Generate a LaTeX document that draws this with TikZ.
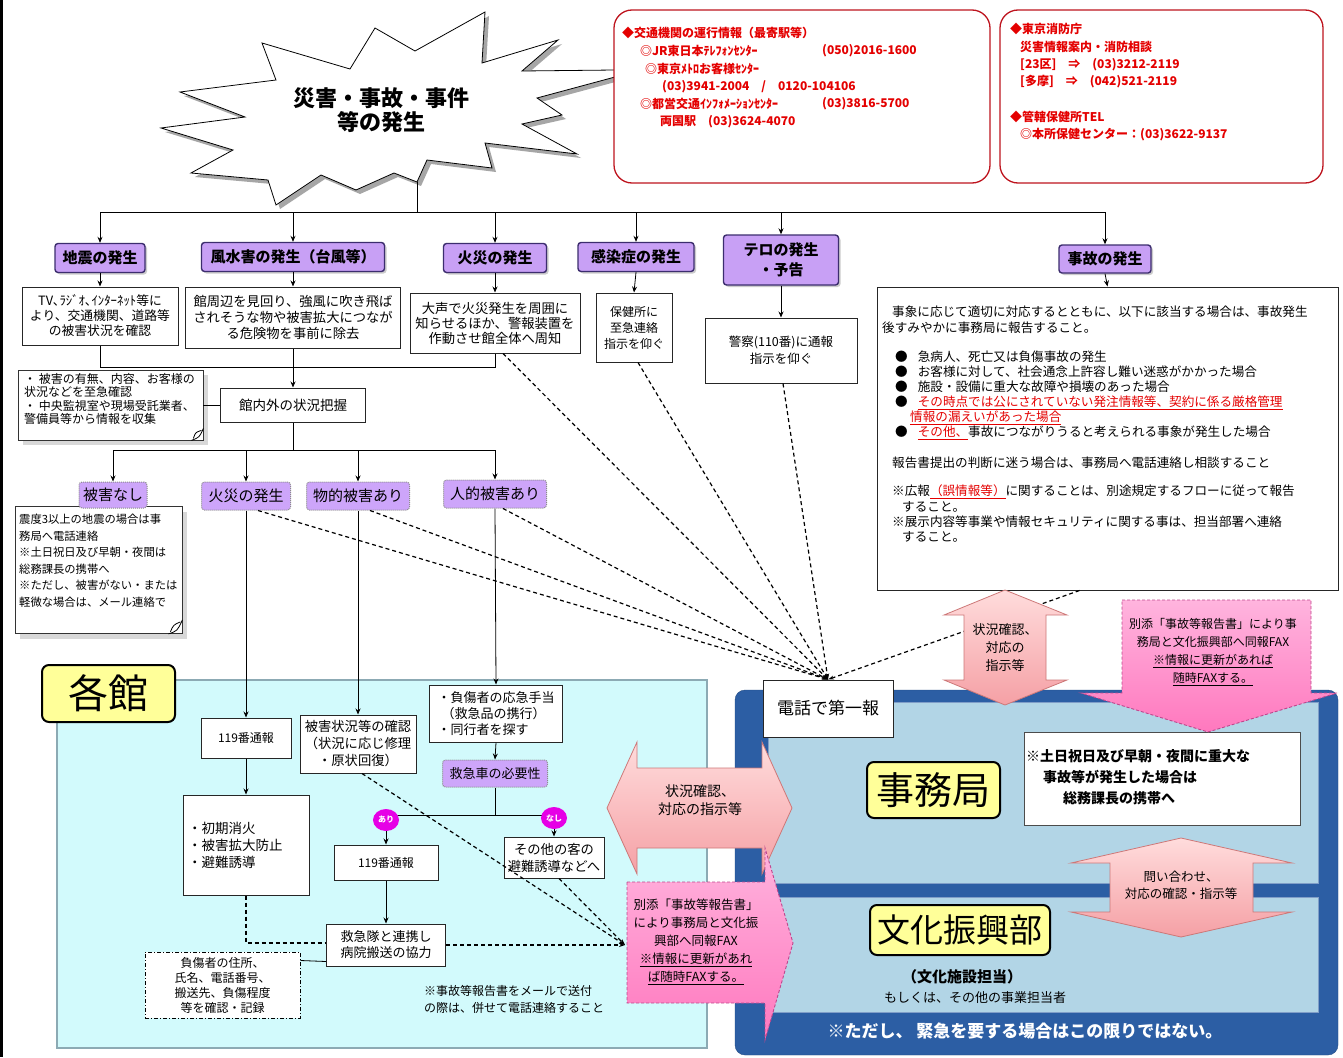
\documentclass[tikz,border=0pt]{standalone}
\usepackage{fontspec}
\setmainfont{Noto Sans CJK JP}
\usetikzlibrary{arrows.meta,shadows,calc,shapes.geometric}
\definecolor{catp}{RGB}{200,160,245}
\definecolor{catp2}{RGB}{205,165,250}
\definecolor{catb}{RGB}{60,45,110}
\definecolor{redt}{RGB}{228,0,0}
\definecolor{redb}{RGB}{190,20,30}
\definecolor{cyanp}{RGB}{210,250,252}
\definecolor{cyanb}{RGB}{140,170,180}
\definecolor{blueo}{RGB}{44,94,164}
\definecolor{bluei}{RGB}{178,213,230}
\definecolor{yel}{RGB}{255,255,153}
\definecolor{mag}{RGB}{230,0,230}
\definecolor{pk1}{RGB}{255,220,220}
\definecolor{pk2}{RGB}{245,160,165}
\definecolor{pkb}{RGB}{205,120,120}
\definecolor{fx1}{RGB}{255,180,222}
\definecolor{fx2}{RGB}{255,120,190}
\definecolor{fxb}{RGB}{190,70,140}
\newcommand\fz[2]{\fontsize{#1}{#2}\selectfont}
\tikzset{
 arr/.style={-{Stealth[length=6pt,width=5pt]}, line width=0.8pt},
 ln/.style={line width=0.8pt},
 dsh/.style={line width=1.2pt, dash pattern=on 4pt off 3pt},
 dtip/.style={-{Stealth[length=6pt,width=4pt]}},
 wbox/.style={draw=black!85, fill=white, line width=1pt, inner sep=1pt, align=center},
 cat/.style={draw=catb, fill=catp, rounded corners=3pt, line width=1.4pt, inner sep=1pt, align=center, font=\fz{15}{20}\bfseries, drop shadow={shadow xshift=2pt, shadow yshift=-2pt, fill=black!40}},
 cat2/.style={draw=black!45, fill=catp2, densely dotted, rounded corners=3pt, line width=1pt, inner sep=1pt, align=center, font=\fz{15}{18}},
 ylab/.style={draw=black, fill=yel, rounded corners=7pt, line width=2pt, align=center, inner sep=0pt},
 rtxt/.style={anchor=west, text=redt, font=\fz{12}{14}\bfseries, inner sep=0pt},
 jtxt/.style={anchor=west, font=\fz{12.6}{15}, inner sep=0pt},
 circ/.style={ellipse, fill=mag, text=white, font=\fz{8}{9}\bfseries, minimum width=26, minimum height=22, inner sep=0pt},
 note/.style={draw=black!80, fill=white, line width=0.8pt, drop shadow={shadow xshift=5pt, shadow yshift=-5pt, fill=black!30}},
 pka/.style={draw=pkb, line width=0.8pt, top color=pk1, bottom color=pk2},
 fxa/.style={draw=fxb, line width=0.9pt, dash pattern=on 3pt off 2pt, top color=fx1, bottom color=fx2}
}
\begin{document}
\begin{tikzpicture}[x=1pt,y=-1pt]
\useasboundingbox (0,0) rectangle (1343,1057);
\fill[white] (0,0) rectangle (1343,1057);
\draw[line width=3pt] (1.5,0) -- (1.5,1057);

% ---------- panels ----------
\filldraw[fill=cyanp, draw=cyanb, line width=1.5pt] (57,680) rectangle (707,1048);
\filldraw[fill=blueo, draw=blueo!80!black, rounded corners=10pt] (735,690) rectangle (1338,1055);
\filldraw[fill=bluei, draw=blueo!60] (768,702) rectangle (1318,883);
\filldraw[fill=bluei, draw=blueo!60] (768,897) rectangle (1318,1012);

% ---------- starburst ----------
\fill[black!35, shift={(4,4)}] (262,43) -- (350,69) -- (375,28) -- (415,51) -- (485,12) -- (482,63) -- (558,40) -- (522,71) -- (615,70) -- (615,77) -- (537,98) -- (562,115) -- (522,124) -- (577,154) -- (485,143) -- (492,168) -- (427,160) -- (417,182) -- (394,173) -- (356,190) -- (321,175) -- (276,205) -- (268,180) -- (191,173) -- (233,150) -- (161,128) -- (245,117) -- (180,92) -- (276,80) -- cycle;
\filldraw[fill=white, draw=black, line width=0.8pt] (262,43) -- (350,69) -- (375,28) -- (415,51) -- (485,12) -- (482,63) -- (558,40) -- (522,71) -- (615,70) -- (615,77) -- (537,98) -- (562,115) -- (522,124) -- (577,154) -- (485,143) -- (492,168) -- (427,160) -- (417,182) -- (394,173) -- (356,190) -- (321,175) -- (276,205) -- (268,180) -- (191,173) -- (233,150) -- (161,128) -- (245,117) -- (180,92) -- (276,80) -- cycle;
\node[align=center, font=\fz{22}{24}\bfseries] (star) at (381,110) {災害・事故・事件\\等の発生};
\coordinate (starbot) at (417,182);
\coordinate (busA) at (0,212);

% ---------- red boxes ----------
\node[draw=redb, line width=1.3pt, fill=white, rounded corners=18pt, minimum width=376, minimum height=173] (rbox1) at (802,96.5) {};
\node[rtxt] (r1a) at (622,33) {◆交通機関の運行情報（最寄駅等）};
\node[rtxt] (r1b) at (640,51) {◎JR東日本ﾃﾚﾌｫﾝｾﾝﾀｰ};
\node[rtxt] (r1c) at (822,51) {(050)2016-1600};
\node[rtxt] (r1d) at (645,69) {◎東京ﾒﾄﾛお客様ｾﾝﾀｰ};
\node[rtxt] (r1e) at (662,87) {(03)3941-2004　/　0120-104106};
\node[rtxt] (r1f) at (640,104) {◎都営交通ｲﾝﾌｫﾒｰｼｮﾝｾﾝﾀｰ};
\node[rtxt] (r1g) at (822,104) {(03)3816-5700};
\node[rtxt] (r1h) at (660,122) {両国駅　(03)3624-4070};
\node[draw=redb, line width=1.3pt, fill=white, rounded corners=18pt, minimum width=323, minimum height=173] (rbox2) at (1161.5,96.5) {};
\node[rtxt] (r2a) at (1010,29) {◆東京消防庁};
\node[rtxt] (r2b) at (1020,47) {災害情報案内・消防相談};
\node[rtxt] (r2c) at (1020,65) {[23区]　⇒　(03)3212-2119};
\node[rtxt] (r2d) at (1020,82) {[多摩]　⇒　(042)521-2119};
\node[rtxt] (r2e) at (1010,117) {◆管轄保健所TEL};
\node[rtxt] (r2f) at (1020,135) {◎本所保健センター：(03)3622-9137};

% ---------- categories ----------
\node[cat, minimum width=90, minimum height=29] (c1) at (100,258) {地震の発生};
\node[cat, minimum width=183, minimum height=29] (c2) at (293,257) {風水害の発生（台風等）};
\node[cat, minimum width=103, minimum height=29] (c3) at (495,258) {火災の発生};
\node[cat, minimum width=116, minimum height=29] (c4) at (636,257) {感染症の発生};
\node[cat, minimum width=115, minimum height=50] (c5) at (781,260) {テロの発生\\・予告};
\node[cat, minimum width=92, minimum height=28] (c6) at (1105,259) {事故の発生};

\draw[ln] (starbot) -- (starbot |- busA);
\draw[ln] (c1.north |- busA) -- (c6.north |- busA);
\foreach \c in {c1,c2,c3,c4,c5,c6} \draw[arr] (\c.north |- busA) -- (\c.north);

% ---------- first text boxes ----------
\node[wbox, minimum width=156, minimum height=58, font=\fz{12.8}{15}] (t1) at (100,316) {TV､ﾗｼﾞｵ､ｲﾝﾀｰﾈｯﾄ等に\\より、交通機関、道路等\\の被害状況を確認};
\node[wbox, minimum width=215, minimum height=61, font=\fz{13.3}{16}] (t2) at (293,317.5) {館周辺を見回り、強風に吹き飛ば\\されそうな物や被害拡大につなが\\る危険物を事前に除去};
\node[wbox, minimum width=170, minimum height=60, font=\fz{13.3}{15}] (t3) at (495,323) {大声で火災発生を周囲に\\知らせるほか、警報装置を\\作動させ館全体へ周知};
\node[wbox, minimum width=76, minimum height=69, font=\fz{12}{16}] (t4) at (634,327.5) {保健所に\\至急連絡\\指示を仰ぐ};
\node[wbox, minimum width=152, minimum height=65, font=\fz{12.5}{17}] (t5) at (781,350.5) {警察(110番)に通報\\指示を仰ぐ};
\node[wbox, minimum width=461, minimum height=303] (t6) at (1107.5,438.5) {};
\foreach \c/\t in {c1/t1,c2/t2,c3/t3,c4/t4,c5/t5,c6/t6} \draw[arr] (\c.south) -- (\t.north);

\node[jtxt] (j1) at (892,312) {事象に応じて適切に対応するとともに、以下に該当する場合は、事故発生};
\node[jtxt] (j2) at (882,328) {後すみやかに事務局に報告すること。};
\node[jtxt] (j3) at (895,357) {●\hspace{10pt}急病人、死亡又は負傷事故の発生};
\node[jtxt] (j4) at (895,372) {●\hspace{10pt}お客様に対して、社会通念上許容し難い迷惑がかかった場合};
\node[jtxt] (j5) at (895,387) {●\hspace{10pt}施設・設備に重大な故障や損壊のあった場合};
\node[jtxt] (j6) at (895,403) {●\hspace{10pt}\textcolor{redt}{\underline{その時点では公にされていない発注情報等、契約に係る厳格管理}}};
\node[jtxt] (j7) at (910,418) {\textcolor{redt}{\underline{情報の漏えいがあった場合}}};
\node[jtxt] (j8) at (895,433) {●\hspace{10pt}\textcolor{redt}{\underline{その他、}}事故につながりうると考えられる事象が発生した場合};
\node[jtxt] (j9) at (892,463) {報告書提出の判断に迷う場合は、事務局へ電話連絡し相談すること};
\node[jtxt] (j10) at (892,492) {※広報\textcolor{redt}{\underline{（誤情報等）}}に関することは、別途規定するフローに従って報告};
\node[jtxt] (j11) at (902,507) {すること。};
\node[jtxt] (j12) at (892,522) {※展示内容等事業や情報セキュリティに関する事は、担当部署へ連絡};
\node[jtxt] (j13) at (902,537) {すること。};

% ---------- situation grasp ----------
\node[wbox, minimum width=145, minimum height=34, font=\fz{13.5}{16}] (kannai) at (293,405) {館内外の状況把握};
\coordinate (mergeA) at (0,367);
\draw[ln] (t1.south) -- (t1.south |- mergeA) -- (kannai.north |- mergeA);
\draw[ln] (t3.south) -- (t3.south |- mergeA) -- (kannai.north |- mergeA);
\draw[arr] (t2.south) -- (kannai.north);
\node[note, minimum width=185, minimum height=70] (n1) at (110.5,405) {};
\node[anchor=north west, align=left, inner sep=0pt, font=\fz{12}{13.5}] (n1t) at (24,373) {・ 被害の有無、内容、お客様の\\状況などを至急確認\\・ 中央監視室や現場受託業者、\\警備員等から情報を収集};
\draw[ln] ($(n1.south east)+(-12,0)$) .. controls ($(n1.south east)+(-4,-3)$) .. ($(n1.south east)+(0,-12)$);
\draw[ln] ($(n1.south east)+(-10,-2)$) .. controls ($(n1.south east)+(-8,-8)$) .. ($(n1.south east)+(-2,-10)$);
\draw[ln] (n1.east) -- (kannai.west);

% ---------- second level ----------
\coordinate (busB) at (0,450);
\node[note, minimum width=167, minimum height=127] (n2) at (98.5,570) {};
\node[anchor=north west, align=left, inner sep=0pt, font=\fz{11.3}{16.5}] (n2t) at (19,514) {震度3以上の地震の場合は事\\務局へ電話連絡\\※土日祝日及び早朝・夜間は\\総務課長の携帯へ\\※ただし、被害がない・または\\軽微な場合は、メール連絡で};
\draw[ln] ($(n2.south east)+(-14,0)$) .. controls ($(n2.south east)+(-5,-3)$) .. ($(n2.south east)+(0,-14)$);
\draw[ln] ($(n2.south east)+(-12,-2)$) .. controls ($(n2.south east)+(-9,-9)$) .. ($(n2.south east)+(-2,-12)$);
\node[cat2, minimum width=68, minimum height=26] (h1) at (113,495) {被害なし};
\node[cat2, minimum width=89, minimum height=28] (k2) at (246,496) {火災の発生};
\node[cat2, minimum width=103, minimum height=28] (b2) at (358,496) {物的被害あり};
\node[cat2, minimum width=103, minimum height=28] (p2) at (495,494) {人的被害あり};
\draw[ln] (kannai.south) -- (kannai.south |- busB);
\draw[ln] (h1.north |- busB) -- (p2.north |- busB);
\foreach \c in {h1,k2,b2,p2} \draw[arr] (\c.north |- busB) -- (\c.north);

% ---------- kakukan content ----------
\node[ylab, minimum width=133, minimum height=57, font=\fz{40}{40}] (kakukan) at (108.5,693.5) {各館};
\node[wbox, minimum width=90, minimum height=40, font=\fz{12}{14}] (f1) at (246,738) {119番通報};
\node[wbox, minimum width=116, minimum height=58, font=\fz{13.3}{17}] (hs) at (358,744) {被害状況等の確認\\（状況に応じ修理\\・原状回復）};
\node[wbox, minimum width=133, minimum height=57, font=\fz{13}{16}, align=left] (oq) at (496,713.5) {・負傷者の応急手当\\\hspace*{4pt}（救急品の携行）\\・同行者を探す};
\node[cat2, minimum width=105, minimum height=27, font=\fz{13}{15}] (kyu) at (495,773.5) {救急車の必要性};
\draw[arr] (k2.south) -- (f1.north);
\draw[arr] (b2.south) -- (hs.north);
\draw[arr] (p2.south) -- (oq.north);
\draw[arr] (oq.south) -- (kyu.north);

\node[wbox, minimum width=126, minimum height=100, font=\fz{13.5}{17}, align=left, text width=116] (sy) at (246,845) {・初期消火\\・被害拡大防止\\・避難誘導};
\draw[arr] (f1.south) -- (sy.north);

\coordinate (brY) at (0,815);
\draw[ln] (kyu.south) -- (kyu.south |- brY);
\draw[ln] (386,815) -- (554,815);
\node[circ] (ari) at (386,820) {あり};
\node[circ] (nashi) at (554,818) {なし};
\node[wbox, minimum width=104, minimum height=35, font=\fz{12}{14}] (f2) at (386,862.5) {119番通報};
\node[wbox, minimum width=100, minimum height=41, font=\fz{13.3}{17}] (sono) at (554,857.5) {その他の客の\\避難誘導などへ};
\draw[arr] (ari.south) -- (f2.north);
\draw[arr] (nashi.south) -- (sono.north);
\node[wbox, minimum width=119, minimum height=42, font=\fz{13}{16}] (kt) at (386,945) {救急隊と連携し\\病院搬送の協力};
\draw[arr] (f2.south) -- (kt.north);
\draw[dsh] (sy.south) |- ($(kt.west)+(0,-2)$);
\node[draw=black, fill=white, dash pattern=on 4pt off 2pt on 1pt off 2pt, line width=1pt, minimum width=155, minimum height=66, font=\fz{12}{15}, align=center] (fs) at (222.5,985) {負傷者の住所、\\氏名、電話番号、\\搬送先、負傷程度\\等を確認・記録};
\draw[ln] ($(fs.north east)+(0,9)$) -- ($(kt.south west)+(0,-5)$);
\node[anchor=north west, align=left, inner sep=0pt, font=\fz{12}{17}] (memo) at (424,985) {※事故等報告書をメールで送付\\の際は、併せて電話連絡すること};

% ---------- right side nodes ----------
\node[wbox, minimum width=130, minimum height=57, font=\fz{17}{20}] (tel) at (828,708.5) {電話で第一報};
\node[ylab, minimum width=133, minimum height=56, font=\fz{38}{40}] (jimu) at (933.5,790) {事務局};
\node[draw=black!70, fill=white, line width=1pt, minimum width=276, minimum height=93] (jn) at (1162,778.5) {};
\node[anchor=north west, align=left, inner sep=0pt, font=\fz{14}{21}\bfseries] (jnt) at (1026,749) {※土日祝日及び早朝・夜間に重大な\\\hspace*{17pt}事故等が発生した場合は\\\hspace*{37pt}総務課長の携帯へ};
\node[ylab, minimum width=180, minimum height=50, font=\fz{33}{35}] (bunka) at (960,930) {文化振興部};
\node[font=\fz{15}{17}\bfseries] (bk1) at (962,977) {（文化施設担当）};
\node[font=\fz{13}{15}] (bk2) at (975,998) {もしくは、その他の事業担当者};
\node[text=white, font=\fz{17}{19}\bfseries] (bt) at (1025,1031) {※ただし、 緊急を要する場合はこの限りではない。};

% ---------- dashed reports ----------
\coordinate (faxin) at (625,945);
\draw[dsh, dtip] (kt.east) -- (faxin);
\draw[dsh, dtip] ($(hs.south)+(4,0)$) -- (faxin);
\draw[dsh, dtip] ($(sono.south)+(5,0)$) -- (faxin);
\draw[dsh, dtip] ($(k2.south)+(12,0)$) -- (tel.north);
\draw[dsh, dtip] ($(b2.south)+(12,0)$) -- (tel.north);
\draw[dsh, dtip] ($(p2.south)+(8,0)$) -- (tel.north);
\draw[dsh, dtip] ($(t3.south)+(8,0)$) -- (tel.north);
\draw[dsh, dtip] ($(t4.south)+(4,0)$) -- (tel.north);
\draw[dsh, dtip] ($(t5.south)+(2,0)$) -- (tel.north);
\draw[dsh, dtip] ($(t6.south)+(-28,0)$) -- (tel.north);

% ---------- pink arrows ----------
\draw[pka] (607,808) -- (637,742) -- (637,768) -- (762,768) -- (762,742) -- (792,808) -- (762,874) -- (762,848) -- (637,848) -- (637,874) -- cycle;
\node[align=center, font=\fz{14}{18}] (a1t) at (700,800) {状況確認、\\対応の指示等};
\draw[pka] (1005,590) -- (1067,615) -- (1046,615) -- (1046,680) -- (1067,680) -- (1005,705) -- (944,680) -- (964,680) -- (964,615) -- (944,615) -- cycle;
\node[align=center, font=\fz{13}{18}] (a2t) at (1005,648) {状況確認、\\対応の\\指示等};
\draw[pka] (1181,838) -- (1292,863) -- (1253,863) -- (1253,912) -- (1292,912) -- (1181,937) -- (1071,912) -- (1110,912) -- (1110,863) -- (1071,863) -- cycle;
\node[align=center, font=\fz{12.5}{17}] (a3t) at (1181,885) {問い合わせ、\\対応の確認・指示等};
\draw[fxa] (1122,600) -- (1311,600) -- (1311,693) -- (1337,693) -- (1208,732) -- (1081,693) -- (1122,693) -- cycle;
\node[align=center, font=\fz{12}{18}] (f3t) at (1213,652) {別添「事故等報告書」により事\\務局と文化振興部へ同報FAX\\\underline{※情報に更新があれば}\\\underline{随時FAXする。}};
\draw[fxa] (627,882) -- (765,882) -- (765,848) -- (793,943) -- (765,1040) -- (765,1003) -- (627,1003) -- cycle;
\node[align=center, font=\fz{12.5}{18}] (f4t) at (696,942) {別添「事故等報告書」\\により事務局と文化振\\興部へ同報FAX\\\underline{※情報に更新があれ}\\\underline{ば随時FAXする。}};
\end{tikzpicture}
\end{document}
